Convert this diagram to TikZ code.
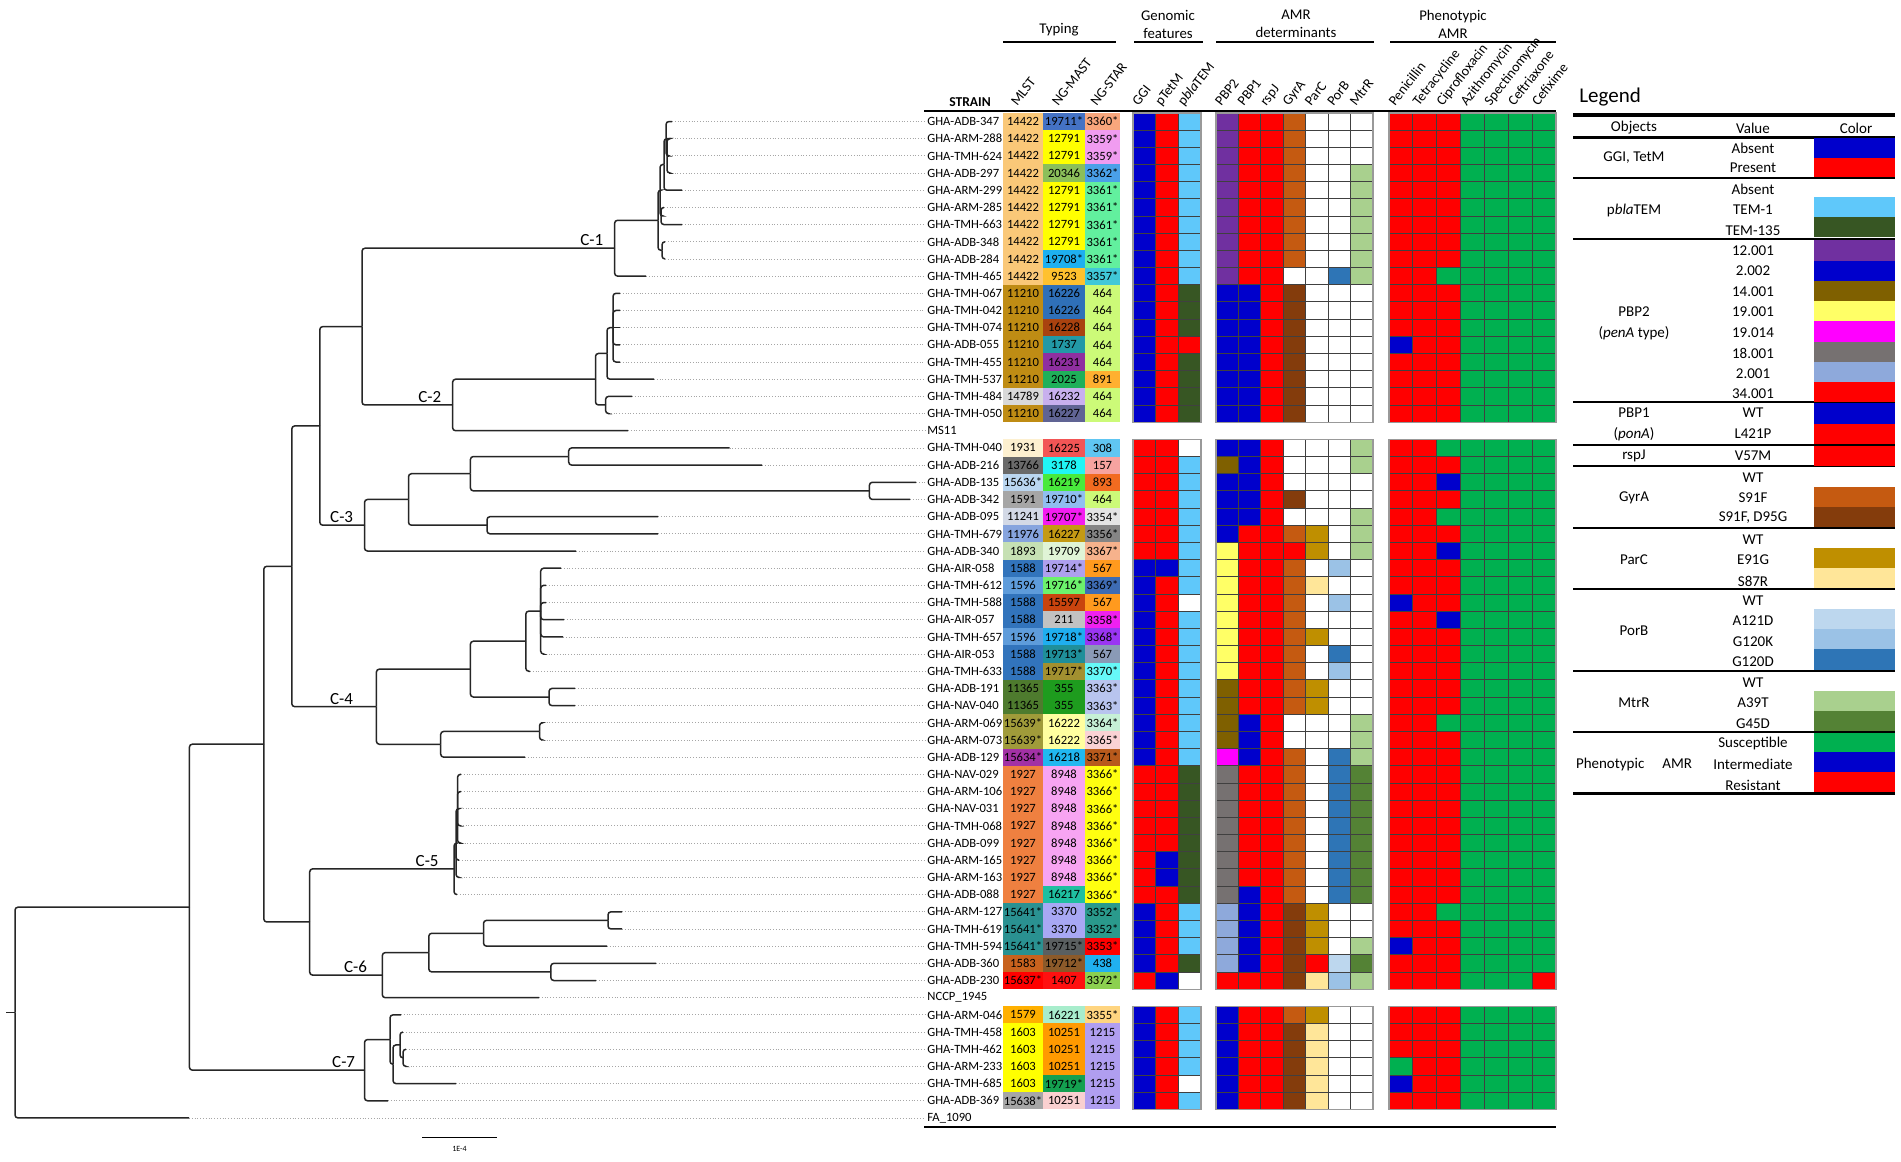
\documentclass[tikz,border=0pt]{standalone}
\usepackage{fontspec}
\setmainfont{Carlito}
\newcommand{\rowy}[1]{121.5+(#1-1)*17.18}
% matrix colours
\definecolor{qB}{RGB}{0,0,204}
\definecolor{qR}{RGB}{255,0,0}
\definecolor{qT}{RGB}{95,200,250}
\definecolor{qD}{RGB}{55,86,35}
\definecolor{qW}{RGB}{255,255,255}
\definecolor{qP}{RGB}{112,48,160}
\definecolor{qO}{RGB}{127,96,0}
\definecolor{qY}{RGB}{255,255,102}
\definecolor{qM}{RGB}{255,0,255}
\definecolor{qG}{RGB}{118,113,113}
\definecolor{qL}{RGB}{142,169,219}
\definecolor{qF}{RGB}{197,90,17}
\definecolor{qK}{RGB}{132,60,12}
\definecolor{qE}{RGB}{191,143,0}
\definecolor{qS}{RGB}{255,230,153}
\definecolor{qa}{RGB}{189,215,238}
\definecolor{qb}{RGB}{155,194,230}
\definecolor{qc}{RGB}{46,117,182}
\definecolor{qm}{RGB}{169,208,142}
\definecolor{qn}{RGB}{84,130,53}
\definecolor{qV}{RGB}{0,176,80}
\def\cellx{{1133,1155.67,1178.33,1216,1238.43,1260.86,1283.29,1305.71,1328.14,1350.57,1389,1412.86,1436.71,1460.57,1484.43,1508.29,1532.14}}
\def\cellw{{22.67,22.67,22.67,22.43,22.43,22.43,22.43,22.43,22.43,22.43,23.86,23.86,23.86,23.86,23.86,23.86,23.86}}

\begin{document}
\begin{tikzpicture}[x=0.5pt, y=-0.5pt,
  branch/.style={line width=0.75pt, black!85, rounded corners=1.5pt},
  leafline/.style={densely dotted, line width=0.4pt, gray!70},
  strain/.style={anchor=west, inner sep=1pt, font=\fontsize{6.3}{7}\selectfont},
  typecell/.style={inner sep=0pt, minimum height=8.59pt, font=\fontsize{6.3}{7}\selectfont},
  cell/.style={draw=black!75, line width=0.4pt},
  block/.style={draw=gray!80, line width=0.6pt},
  colhead/.style={anchor=base west, rotate=52, inner sep=0pt, font=\fontsize{7}{8}\selectfont},
  grouphead/.style={align=center, font=\fontsize{7.4}{9}\selectfont},
  groupline/.style={line width=0.8pt},
  clade/.style={anchor=south east, inner sep=0.5pt, font=\fontsize{8.5}{9}\selectfont},
  legtxt/.style={inner sep=0pt, font=\fontsize{7.5}{9}\selectfont},
  legrule/.style={line width=1pt}]

\fill[white] (0,0) rectangle (1901,1162);
\useasboundingbox (0,0) rectangle (1901,1162);

% tips and strain names
\foreach \nm/\tx [count=\r] in {GHA-ADB-347/672, GHA-ARM-288/669, GHA-TMH-624/669, GHA-ADB-297/669, GHA-ARM-299/682, GHA-ARM-285/664, GHA-TMH-663/682, GHA-ADB-348/665, GHA-ADB-284/665, GHA-TMH-465/646,
  GHA-TMH-067/620, GHA-TMH-042/620, GHA-TMH-074/620, GHA-ADB-055/620, GHA-TMH-455/620, GHA-TMH-537/654, GHA-TMH-484/632, GHA-TMH-050/608, MS11/628,
  GHA-TMH-040/729.5, GHA-ADB-216/762, GHA-ADB-135/916, GHA-ADB-342/910, GHA-ADB-095/658, GHA-TMH-679/658, GHA-ADB-340/576,
  GHA-AIR-058/561, GHA-TMH-612/546, GHA-TMH-588/546, GHA-AIR-057/564, GHA-TMH-657/563, GHA-AIR-053/543, GHA-TMH-633/530, GHA-ADB-191/575, GHA-NAV-040/575, GHA-ARM-069/541, GHA-ARM-073/541, GHA-ADB-129/525,
  GHA-NAV-029/461, GHA-ARM-106/461, GHA-NAV-031/460, GHA-TMH-068/460, GHA-ADB-099/459, GHA-ARM-165/459, GHA-ARM-163/458, GHA-ADB-088/457,
  GHA-ARM-127/622, GHA-TMH-619/622, GHA-TMH-594/607, GHA-ADB-360/656, GHA-ADB-230/596, NCCP\_1945/539,
  GHA-ARM-046/401, GHA-TMH-458/403, GHA-TMH-462/406, GHA-ARM-233/405, GHA-TMH-685/456, GHA-ADB-369/388, FA\_1090/189}
{
  \coordinate (t\r) at (\tx,{\rowy{\r}});
  \node[strain] (s\r) at (925,{\rowy{\r}}) {\nm};
  \draw[leafline] (t\r) -- (s\r.west);
}

% internal nodes
\coordinate (k1) at (667,{\rowy{3}});
\coordinate (k2) at (666,{\rowy{2}});
\coordinate (k3) at (664,{\rowy{3.5}});
\coordinate (k4) at (661,{\rowy{6.5}});
\coordinate (k5) at (660,{\rowy{5}});
\coordinate (k6) at (662,{\rowy{8.5}});
\coordinate (k7) at (658,{\rowy{6.75}});
\coordinate (cl1) at (614.6,{\rowy{8.375}});
\coordinate (k8) at (613,{\rowy{13}});
\coordinate (k9) at (607,{\rowy{14.5}});
\coordinate (k10) at (605.6,{\rowy{17.5}});
\coordinate (k11) at (595.5,{\rowy{16}});
\coordinate (cl2) at (452.6,{\rowy{17.5}});
\coordinate (nE) at (362,{\rowy{12.9375}});
\coordinate (k12) at (568.7,{\rowy{20.5}});
\coordinate (k13) at (869.4,{\rowy{22.5}});
\coordinate (k14) at (470.4,{\rowy{21.5}});
\coordinate (k15) at (487,{\rowy{24.5}});
\coordinate (k16) at (408.5,{\rowy{23}});
\coordinate (cl3) at (364.5,{\rowy{24.5}});
\coordinate (nD) at (319.8,{\rowy{18.71875}});
\coordinate (k17) at (540.7,{\rowy{29.5}});
\coordinate (k18) at (525.8,{\rowy{31.25}});
\coordinate (k19) at (549,{\rowy{34.5}});
\coordinate (k20) at (470.4,{\rowy{32.875}});
\coordinate (k21) at (539.5,{\rowy{36.5}});
\coordinate (k22) at (440.7,{\rowy{37.25}});
\coordinate (cl4) at (376.4,{\rowy{35.0625}});
\coordinate (nC) at (291.8,{\rowy{26.890625}});
\coordinate (k29) at (457.5,{\rowy{41}});
\coordinate (k30) at (456,{\rowy{43}});
\coordinate (cl5) at (454,{\rowy{44.5}});
\coordinate (k23) at (608,{\rowy{47.5}});
\coordinate (k24) at (483.5,{\rowy{48.25}});
\coordinate (k25) at (550.8,{\rowy{50.5}});
\coordinate (k26) at (428.8,{\rowy{49.375}});
\coordinate (cl6) at (382.3,{\rowy{50.6875}});
\coordinate (nF) at (309.7,{\rowy{47.59375}});
\coordinate (nB) at (263.8,{\rowy{37.2421875}});
\coordinate (k27) at (403,{\rowy{55.5}});
\coordinate (k31) at (400,{\rowy{54.75}});
\coordinate (k28) at (393,{\rowy{55.875}});
\coordinate (k32) at (390,{\rowy{54.4375}});
\coordinate (cl7) at (364.5,{\rowy{56.21875}});
\coordinate (nA) at (189.4,{\rowy{46.73047}});
\coordinate (nR) at (15,{\rowy{52.86523}});
\coordinate (stub) at (6,{\rowy{52.86523}});

% branches
\foreach \p/\c in {k1/t2, k1/t4, k2/t1, k2/k1, k3/k2, k3/t5, k4/t6, k4/t7, k5/k3, k5/k4, k6/t8, k6/t9, k7/k5, k7/k6, cl1/k7, cl1/t10,
  k8/t11, k8/t12, k8/t14, k8/t15, k9/k8, k9/t16, k10/t17, k10/t18, k11/k9, k11/k10, cl2/k11, cl2/t19, nE/cl1, nE/cl2,
  k12/t20, k12/t21, k13/t22, k13/t23, k14/k12, k14/k13, k15/t24, k15/t25, k16/k14, k16/k15, cl3/k16, cl3/t26, nD/nE, nD/cl3,
  k17/t27, k17/t28, k17/t29, k17/t30, k17/t31, k17/t32, k18/k17, k18/t33, k19/t34, k19/t35, k20/k18, k20/k19, k21/t36, k21/t37, k22/k21, k22/t38, cl4/k20, cl4/k22, nC/nD, nC/cl4,
  k29/t39, k29/t40, k29/t42, k29/t43, k30/k29, k30/t44, k30/t45, cl5/k30, cl5/t46,
  k23/t47, k23/t48, k24/k23, k24/t49, k25/t50, k25/t51, k26/k24, k26/k25, cl6/k26, cl6/t52, nF/cl5, nF/cl6, nB/nC, nB/nF,
  k27/t55, k27/t56, k31/t54, k31/k27, k28/k31, k28/t57, k32/t53, k32/k28, cl7/k32, cl7/t58, nA/nB, nA/cl7, nR/nA, nR/t59}
  \draw[branch] (\p) |- (\c);
\draw[branch] (k1) -- (t3);
\draw[branch] (k8) -- (t13);
\draw[branch] (k29) -- (t41);
\draw[branch] (stub) -- (nR);

% clade labels
\foreach \c/\lab/\dx in {cl1/C-1/5, cl2/C-2/5, cl3/C-3/5, cl4/C-4/11, cl5/C-5/7, cl6/C-6/7, cl7/C-7/4}
  \node[clade] (lab\c) at ([xshift=-\dx pt, yshift=0.5pt]\c) {\lab};

% scale bar
\coordinate (sb1) at (422,1137);
\coordinate (sb2) at (497,1137);
\draw[line width=0.5pt] (sb1) -- (sb2);
\node[inner sep=0pt, font=\fontsize{4}{5}\selectfont] (sblab) at (459.5,1149) {1E-4};

% table rules
\draw[line width=1pt] (924,111) -- (1556,111);
\draw[line width=1pt] (924,1127) -- (1556,1127);
\node[font=\bfseries\fontsize{6.8}{8}\selectfont, inner sep=0pt] (strainhead) at (970,102) {STRAIN};

% group headers
\node[grouphead] (gtyp) at (1059,30) {Typing};
\node[grouphead] (ggen) at (1168,24) {Genomic\\features};
\node[grouphead] (gamr) at (1296,24) {AMR\\determinants};
\node[grouphead] (gphe) at (1453,24) {Phenotypic\\AMR};
\draw[groupline] (1003,42) -- (1116,42);
\draw[groupline] (1134,42) -- (1203,42);
\draw[groupline] (1216,42) -- (1374,42);
\draw[groupline] (1390,42) -- (1556,42);

% column headers
\foreach \lab/\cx [count=\i] in {MLST/1023, NG-MAST/1064, NG-STAR/1102.5, GGI/1144.3, pTetM/1167, p\textit{bla}TEM/1189.7,
  PBP2/1227.2, PBP1/1249.6, rspJ/1272.1, GyrA/1294.5, ParC/1316.9, PorB/1339.4, MtrR/1361.8,
  Penicillin/1400.9, Tetracycline/1424.8, Ciprofloxacin/1448.6, Azithromycin/1472.5, Spectinomycin/1496.4, Ceftriaxone/1520.2, Cefixime/1544.1}
  \node[colhead] (h\i) at (\cx-6,107) {\lab};

% typing cells
\foreach \r/\ma/\mc/\na/\nc/\sa/\scl in {1/14422/FAC878/19711*/4472C4/3360*/F8A67C, 2/14422/FAC878/12791/FFFF00/3359*/F09CF0, 3/14422/FAC878/12791/FFFF00/3359*/F09CF0,
  4/14422/FAC878/20346/8CBF5A/3362*/4AA0E8, 5/14422/FAC878/12791/FFFF00/3361*/62F09E, 6/14422/FAC878/12791/FFFF00/3361*/62F09E, 7/14422/FAC878/12791/FFFF00/3361*/62F09E,
  8/14422/FAC878/12791/FFFF00/3361*/62F09E, 9/14422/FAC878/19708*/1EB0F0/3361*/62F09E, 10/14422/FAC878/9523/FFC12E/3357*/40C8D8,
  11/11210/BF8C14/16226/2F70B8/464/CCFA78, 12/11210/BF8C14/16226/2F70B8/464/CCFA78, 13/11210/BF8C14/16228/A9420F/464/CCFA78, 14/11210/BF8C14/1737/2299A6/464/CCFA78,
  15/11210/BF8C14/16231/8F2FA0/464/CCFA78, 16/11210/BF8C14/2025/1FB05A/891/FFB030, 17/14789/D9D9D9/16232/C8B0EE/464/CCFA78, 18/11210/BF8C14/16227/606494/464/CCFA78,
  20/1931/FDF0D0/16225/F25555/308/60C6F2, 21/13766/6A6A6A/3178/20F5F5/157/F7A3A0, 22/15636*/BAD6F0/16219/48EA3C/893/F26B20, 23/1591/A6A6A6/19710*/90BEF0/464/CCFA78,
  24/11241/D3D9E6/19707*/F41CF0/3354*/E4E4E4, 25/11976/86A4DE/16227/C49A14/3356*/858585, 26/1893/C6E0B4/19709/E0F4D6/3367*/F6B28C,
  27/1588/3274BC/19714*/AEA0EE/567/FF9A1E, 28/1596/5E9CDB/19716*/6CF26C/3369*/3E6CB4, 29/1588/3274BC/15597/C9440E/567/FF9A1E, 30/1588/3274BC/211/C2C2C2/3358*/F020F0,
  31/1596/5E9CDB/19718*/1FAEEF/3368*/9A35F2, 32/1588/3274BC/19713*/1F8F9A/567/8A9AB6, 33/1588/3274BC/19717*/A29030/3370*/66F8F8,
  34/11365/4E7B2E/355/1E9C1E/3363*/B8C4EE, 35/11365/4E7B2E/355/1E9C1E/3363*/B8C4EE, 36/15639*/A09B3A/16222/FFFFA0/3364*/C6F0D6, 37/15639*/A09B3A/16222/FFFFA0/3365*/FAD2D4,
  38/15634*/A231A5/16218/20B8F0/3371*/B85A1C, 39/1927/EF8040/8948/F7A4F2/3366*/FFFF10, 40/1927/EF8040/8948/F7A4F2/3366*/FFFF10, 41/1927/EF8040/8948/F7A4F2/3366*/FFFF10,
  42/1927/EF8040/8948/F7A4F2/3366*/FFFF10, 43/1927/EF8040/8948/F7A4F2/3366*/FFFF10, 44/1927/EF8040/8948/F7A4F2/3366*/FFFF10, 45/1927/EF8040/8948/F7A4F2/3366*/FFFF10,
  46/1927/EF8040/16217/1FBFA0/3366*/FFFF10, 47/15641*/2A9191/3370/A8A8F4/3352*/2A9A8C, 48/15641*/2A9191/3370/A8A8F4/3352*/2A9A8C, 49/15641*/2A9191/19715*/5A5F60/3353*/FF0000,
  50/1583/C8621E/19712*/8C5A2A/438/20B0F0, 51/15637*/FF0000/1407/FF1010/3372*/8CD050,
  53/1579/FFB000/16221/A8EDCC/3355*/FFD580, 54/1603/FFFF00/10251/FF9A00/1215/B09EF0, 55/1603/FFFF00/10251/FF9A00/1215/B09EF0, 56/1603/FFFF00/10251/FF9A00/1215/B09EF0,
  57/1603/FFFF00/19719*/14A050/1215/B09EF0, 58/15638*/A6A6A6/10251/FAD0D0/1215/B09EF0}
{
  \edef\tmp{\noexpand\definecolor{cm}{HTML}{\mc}\noexpand\definecolor{cn}{HTML}{\nc}\noexpand\definecolor{cs}{HTML}{\scl}}\tmp
  \node[typecell, fill=cm, minimum width=20pt] (ml\r) at (1023,{\rowy{\r}}) {\ma};
  \node[typecell, fill=cn, minimum width=21pt] (nm\r) at (1064,{\rowy{\r}}) {\na};
  \node[typecell, fill=cs, minimum width=17.5pt] (ns\r) at (1102.5,{\rowy{\r}}) {\sa};
}

% genomic, AMR and phenotypic cells
\foreach \r/\codes in {1/{B,R,T,P,R,R,F,W,W,W,R,R,R,V,V,V,V}, 2/{B,R,T,P,R,R,F,W,W,W,R,R,R,V,V,V,V}, 3/{B,R,T,P,R,R,F,W,W,W,R,R,R,V,V,V,V},
  4/{B,R,T,P,R,R,F,W,W,m,R,R,R,V,V,V,V}, 5/{B,R,T,P,R,R,F,W,W,m,R,R,R,V,V,V,V}, 6/{B,R,T,P,R,R,F,W,W,m,R,R,R,V,V,V,V},
  7/{B,R,T,P,R,R,F,W,W,m,R,R,R,V,V,V,V}, 8/{B,R,T,P,R,R,F,W,W,m,R,R,R,V,V,V,V}, 9/{B,R,T,P,R,R,F,W,W,m,R,R,R,V,V,V,V},
  10/{B,R,T,P,R,R,W,W,c,m,R,R,V,V,V,V,V}, 11/{B,R,D,B,B,R,K,W,W,W,R,R,R,V,V,V,V}, 12/{B,R,D,B,B,R,K,W,W,W,R,R,R,V,V,V,V},
  13/{B,R,D,B,B,R,K,W,W,W,R,R,R,V,V,V,V}, 14/{B,R,R,B,B,R,K,W,W,W,B,R,R,V,V,V,V}, 15/{B,R,D,B,B,R,K,W,W,W,R,R,R,V,V,V,V},
  16/{B,R,D,B,B,R,K,W,W,W,R,R,R,V,V,V,V}, 17/{B,R,D,B,B,R,K,W,W,W,R,R,R,V,V,V,V}, 18/{B,R,D,B,B,R,K,W,W,W,R,R,R,V,V,V,V},
  20/{R,R,W,B,B,R,W,W,W,m,R,R,V,V,V,V,V}, 21/{R,R,T,O,B,R,W,W,W,m,R,R,R,V,V,V,V}, 22/{R,R,T,B,B,R,W,W,W,W,R,R,B,V,V,V,V},
  23/{R,R,T,B,B,R,K,W,W,W,R,R,R,V,V,V,V}, 24/{R,R,T,B,B,R,W,W,W,m,R,R,V,V,V,V,V}, 25/{R,R,T,B,R,R,F,E,W,m,R,R,R,V,V,V,V},
  26/{R,R,T,Y,R,R,R,E,W,m,R,R,B,V,V,V,V}, 27/{B,B,T,Y,R,R,F,W,b,W,R,R,R,V,V,V,V}, 28/{B,R,T,Y,R,R,F,S,W,W,R,R,R,V,V,V,V},
  29/{B,R,W,Y,R,R,F,W,b,W,B,R,R,V,V,V,V}, 30/{B,R,T,Y,R,R,F,W,W,W,R,R,B,V,V,V,V}, 31/{B,R,T,Y,R,R,F,E,W,W,R,R,R,V,V,V,V},
  32/{B,R,T,Y,R,R,F,W,c,W,R,R,R,V,V,V,V}, 33/{B,R,T,Y,R,R,F,W,b,W,R,R,R,V,V,V,V}, 34/{B,R,T,O,R,R,F,E,W,W,R,R,R,V,V,V,V},
  35/{B,R,T,O,R,R,F,E,W,W,R,R,R,V,V,V,V}, 36/{B,R,T,O,B,R,W,W,W,m,R,R,V,V,V,V,V}, 37/{B,R,T,O,B,R,W,W,W,m,R,R,R,V,V,V,V},
  38/{B,R,T,M,B,R,F,W,c,m,R,R,R,V,V,V,V}, 39/{R,R,D,G,R,R,F,W,c,n,R,R,R,V,V,V,V}, 40/{R,R,D,G,R,R,F,W,c,n,R,R,R,V,V,V,V},
  41/{R,R,D,G,R,R,F,W,c,n,R,R,R,V,V,V,V}, 42/{R,R,D,G,R,R,F,W,c,n,R,R,R,V,V,V,V}, 43/{R,R,D,G,R,R,F,W,c,n,R,R,R,V,V,V,V},
  44/{R,B,D,G,R,R,F,W,c,n,R,R,R,V,V,V,V}, 45/{R,B,D,G,R,R,F,W,c,n,R,R,R,V,V,V,V}, 46/{R,R,D,G,B,R,F,W,c,n,R,R,R,V,V,V,V},
  47/{B,R,T,L,B,R,K,E,W,W,R,R,V,V,V,V,V}, 48/{B,R,T,L,B,R,K,E,W,W,R,R,R,V,V,V,V}, 49/{B,R,T,L,B,R,K,E,W,m,B,R,R,V,V,V,V},
  50/{B,R,D,L,B,R,K,R,a,n,R,R,R,V,V,V,V}, 51/{R,B,W,R,R,R,K,S,b,m,R,R,R,V,V,V,R},
  53/{B,R,T,B,R,R,F,E,W,W,R,R,R,V,V,V,V}, 54/{B,R,T,B,R,R,K,S,W,W,R,R,R,V,V,V,V}, 55/{B,R,T,B,R,R,K,S,W,W,R,R,R,V,V,V,V},
  56/{B,R,T,B,R,R,K,S,W,W,V,R,R,V,V,V,V}, 57/{B,R,W,B,R,R,K,S,W,W,B,R,R,V,V,V,V}, 58/{B,R,T,B,R,R,K,S,W,W,R,R,R,V,V,V,V}}
  \foreach \c [count=\k] in \codes {
    \pgfmathsetmacro\xl{\cellx[\k-1]}
    \pgfmathsetmacro\xr{\xl+\cellw[\k-1]}
    \filldraw[cell, fill=q\c] (\xl,{\rowy{\r}-8.59}) rectangle (\xr,{\rowy{\r}+8.59});
  }

% block outlines
\foreach \ya/\yb in {112.9/422.2, 439.4/989.2, 1006.4/1109.4} {
  \draw[block] (1133,\ya) rectangle (1201,\yb);
  \draw[block] (1216,\ya) rectangle (1373,\yb);
  \draw[block] (1389,\ya) rectangle (1556,\yb);
}

% legend
\node[anchor=west, inner sep=0pt, font=\fontsize{10.5}{12}\selectfont] (legtitle) at (1579,97) {Legend};
\draw[line width=1.75pt] (1573,115) -- (1895,115);
\draw[line width=1.5pt] (1573,137) -- (1895,137);
\foreach \y in {178, 239, 402, 445, 466, 528, 589, 671, 732}
  \draw[legrule] (1573,\y) -- (1895,\y);
\draw[line width=1.5pt] (1573,793) -- (1895,793);
\node[legtxt] (lgobj) at (1634,128) {Objects};
\node[legtxt] (lgval) at (1753,128) {Value};
\node[legtxt] (lgcol) at (1856,128) {Color};
\foreach \lab/\y [count=\i] in {{GGI, TetM}/158, p\textit{bla}TEM/210, PBP2/312, (\textit{penA} type)/333, PBP1/413, (\textit{ponA})/434,
  rspJ/456, GyrA/498, ParC/560, PorB/631, MtrR/703, Phenotypic\hspace{9pt}AMR/764}
  \node[legtxt] (lo\i) at (1634,\y) {\lab};
\foreach \v/\y [count=\i] in {Absent/148, Present/168, Absent/189, TEM-1/210, TEM-135/231, 12.001/251, 2.002/271, 14.001/292, 19.001/312,
  19.014/333, 18.001/353, 2.001/374, 34.001/394, WT/413, L421P/434, V57M/456, WT/478, S91F/498, {S91F, D95G}/518, WT/540, E91G/560,
  S87R/581, WT/601, A121D/621, G120K/642, G120D/662, WT/683, A39T/703, G45D/724, Susceptible/743, Intermediate/764, Resistant/785}
  \node[legtxt] (lv\i) at (1753,\y) {\v};
\foreach \col/\ya/\yb in {qB/138/157.5, qR/157.5/176.5, qT/197/217, qD/217/237, qP/240/260.5, qB/260.5/281, qO/281/301, qY/301/321,
  qM/321/342, qG/342/362, qL/362/382, qR/382/401.5, qB/403/424, qR/424/444, qR/446/465.5, qF/487/507, qK/507/527, qE/548/568, qS/568/588,
  qa/609/629, qb/629/649, qc/649/670, qm/691/711, qn/711/731, qV/733/752, qB/752/772, qR/772/792}
  \fill[\col] (1814,\ya) rectangle (1895,\yb);
\end{tikzpicture}
\end{document}
